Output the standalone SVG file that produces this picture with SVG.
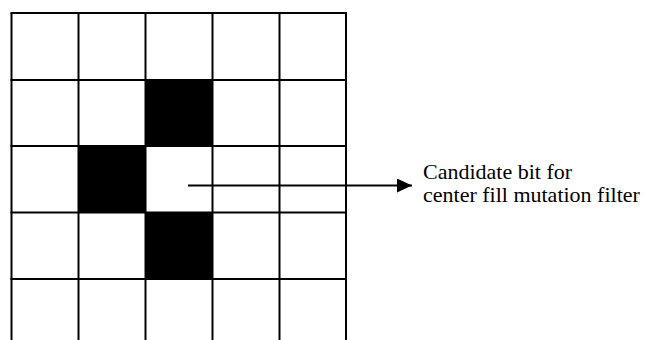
<svg xmlns="http://www.w3.org/2000/svg" width="649" height="340" viewBox="0 0 649 340">
<style>
.grid line{stroke:#000;stroke-width:2}
.cell{fill:#000}
.lbl{font-family:"Liberation Serif","Times New Roman",serif;font-size:22px;fill:#000}
</style>
<defs>
<marker id="ah" markerUnits="userSpaceOnUse" markerWidth="16" markerHeight="16" refX="15" refY="7" orient="auto">
<path d="M0,0 L15,7 L0,14 Z" fill="#000"/>
</marker>
</defs>
<rect width="649" height="340" fill="#fff"/>
<g id="filled">
<rect class="cell" x="145.5" y="80" width="67" height="66"/>
<rect class="cell" x="78.5" y="146" width="67" height="66.5"/>
<rect class="cell" x="145.5" y="212.5" width="67" height="66.5"/>
</g>
<g id="grid" class="grid">
<line x1="11.5" y1="13" x2="11.5" y2="340"/>
<line x1="78.5" y1="13" x2="78.5" y2="340"/>
<line x1="145.5" y1="13" x2="145.5" y2="340"/>
<line x1="212.5" y1="13" x2="212.5" y2="340"/>
<line x1="279.5" y1="13" x2="279.5" y2="340"/>
<line x1="346" y1="13" x2="346" y2="340"/>
<line x1="10.5" y1="13" x2="347" y2="13"/>
<line x1="10.5" y1="80" x2="347" y2="80"/>
<line x1="10.5" y1="146" x2="347" y2="146"/>
<line x1="10.5" y1="212.5" x2="347" y2="212.5"/>
<line x1="10.5" y1="279" x2="347" y2="279"/>
</g>
<g id="connectors">
<line x1="188" y1="185.5" x2="412" y2="185.5" stroke="#000" stroke-width="2" marker-end="url(#ah)"/>
</g>
<g id="label">
<text class="lbl" x="423" y="179">Candidate bit for</text>
<text class="lbl" x="423" y="202">center fill mutation filter</text>
</g>
</svg>
